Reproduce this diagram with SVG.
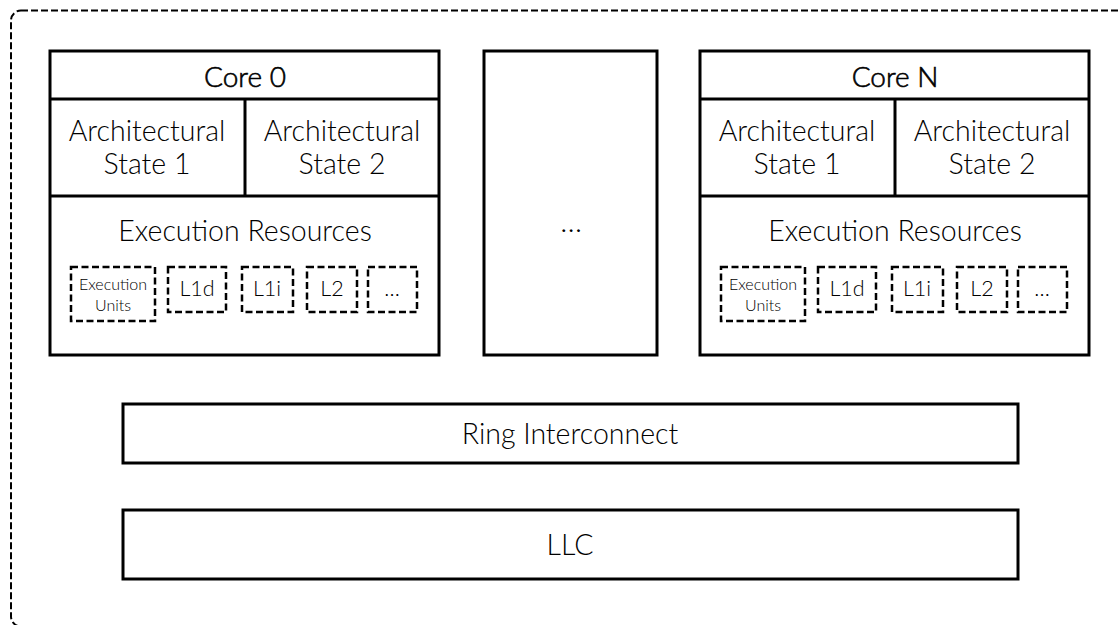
<svg xmlns="http://www.w3.org/2000/svg" width="1118" height="625" viewBox="0 0 1118 625">
  <style>
    .box { fill: #fff; stroke: #000; stroke-width: 3; }
    .line { stroke: #000; stroke-width: 3; }
    .dash { fill: #fff; stroke: #000; stroke-width: 2.5; stroke-dasharray: 7 3.5; }
    .outer { fill: none; stroke: #000; stroke-width: 2; stroke-dasharray: 7 3; }
    text { font-family: Lato, "Noto Sans", sans-serif; fill: #000; text-anchor: middle; font-weight: 300; }
    .title { font-size: 28px; stroke: #000; stroke-width: 0.6; }
    .big { font-size: 28.5px; }
    .mid { font-size: 21.5px; }
    .tiny { font-size: 16px; }
    .dots { font-size: 30px; }
  </style>
  <defs>
    <!-- shared core layout: header, two architectural states, execution resources -->
    <g id="core-body">
      <rect class="box" x="0" y="0" width="389" height="304"/>
      <line class="line" x1="0" y1="48" x2="389" y2="48"/>
      <line class="line" x1="0" y1="145" x2="389" y2="145"/>
      <line class="line" x1="195" y1="48" x2="195" y2="145"/>
      <text class="big" x="97" y="90">Architectural</text>
      <text class="big" x="97" y="123">State 1</text>
      <text class="big" x="292" y="90">Architectural</text>
      <text class="big" x="292" y="123">State 2</text>
      <text class="big" x="195" y="190">Execution Resources</text>
      <rect class="dash" x="21" y="216" width="84" height="54"/>
      <text class="tiny" x="63" y="239">Execution</text>
      <text class="tiny" x="63" y="260">Units</text>
      <rect class="dash" x="118" y="216" width="58" height="45"/>
      <text class="mid" x="147" y="245">L1d</text>
      <rect class="dash" x="192" y="216" width="51" height="45"/>
      <text class="mid" x="217" y="245">L1i</text>
      <rect class="dash" x="257" y="216" width="50" height="45"/>
      <text class="mid" x="282" y="245">L2</text>
      <rect class="dash" x="318" y="216" width="49" height="45"/>
      <text class="mid" x="342" y="245">…</text>
    </g>
  </defs>

  <!-- package boundary; right and bottom edges run just past the canvas -->
  <rect class="outer" x="11" y="10.5" width="1125" height="616" rx="10"/>

  <g id="core0" transform="translate(50,51)">
    <use href="#core-body"/>
    <text class="title" x="195" y="36">Core 0</text>
  </g>

  <g id="cores-ellipsis">
    <rect class="box" x="484" y="51" width="173" height="304"/>
    <text class="dots" x="571" y="232">…</text>
  </g>

  <g id="coreN" transform="translate(700,51)">
    <use href="#core-body"/>
    <text class="title" x="195" y="36">Core N</text>
  </g>

  <g id="ring">
    <rect class="box" x="123" y="404" width="895" height="59"/>
    <text class="big" x="570" y="444">Ring Interconnect</text>
  </g>

  <g id="llc">
    <rect class="box" x="123" y="510" width="895" height="69"/>
    <text class="big" x="570" y="555">LLC</text>
  </g>

  <g id="connectors"/>
</svg>
